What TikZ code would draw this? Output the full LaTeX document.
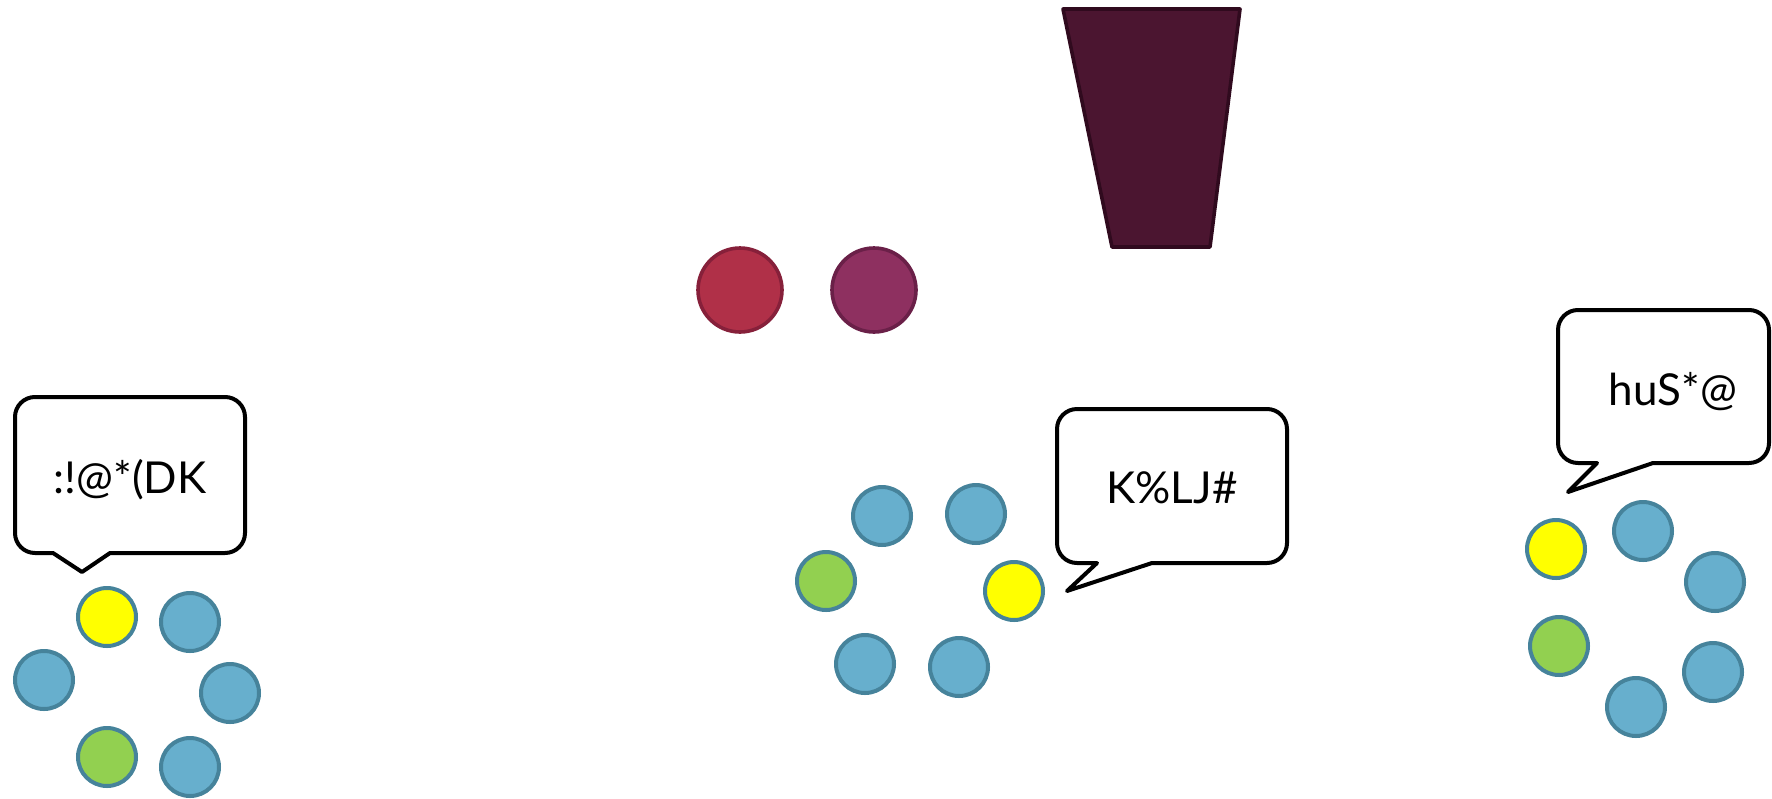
\documentclass[tikz,border=0pt]{standalone}
\usepackage{fontspec}
\setmainfont{Lato}
\definecolor{blueFill}{HTML}{67AFCD}
\definecolor{blueDraw}{HTML}{46839B}
\definecolor{yel}{HTML}{FFFF00}
\definecolor{grn}{HTML}{92D050}
\definecolor{redFill}{HTML}{B03048}
\definecolor{redDraw}{HTML}{86203A}
\definecolor{purFill}{HTML}{8E3060}
\definecolor{purDraw}{HTML}{6A2048}
\definecolor{trapFill}{HTML}{4B1530}
\definecolor{trapDraw}{HTML}{300A1E}
\tikzset{
  ball/.style={circle, inner sep=0pt, minimum size=29pt, line width=2pt, draw=blueDraw},
  bball/.style={ball, fill=blueFill},
  yball/.style={ball, fill=yel},
  gball/.style={ball, fill=grn},
  bigball/.style={circle, inner sep=0pt, minimum size=42pt, line width=1.8pt},
  bubble/.style={draw=black, fill=white, line width=2pt, line join=round},
  saying/.style={inner sep=0pt, anchor=base, font=\fontsize{22}{26}\selectfont},
}
\begin{document}
\begin{tikzpicture}[x=0.5pt, y=-0.5pt]
\useasboundingbox (0,0) rectangle (1772,798);
% top shapes
\node[bigball, fill=redFill, draw=redDraw] (red) at (740,290) {};
\node[bigball, fill=purFill, draw=purDraw] (purple) at (874,290) {};
\draw[fill=trapFill, draw=trapDraw, line width=1.8pt, line join=round] (1063,9) -- (1240,9) -- (1210,247) -- (1112,247) -- cycle;
% left group
\draw[bubble, rounded corners=10pt] (110,553) -- (245,553) -- (245,397) -- (15,397) -- (15,553) [sharp corners] -- (53,553) -- (82,572) -- cycle;
\node[saying] (t1) at (130,493) {:!@*(DK};
\node[yball] (l1) at (107,617) {};
\node[bball] (l2) at (190,622) {};
\node[bball] (l3) at (44,680) {};
\node[bball] (l4) at (230,693) {};
\node[gball] (l5) at (107,757) {};
\node[bball] (l6) at (190,767) {};
% middle group
\draw[bubble, rounded corners=10pt] (1152,563) -- (1287,563) -- (1287,409) -- (1057,409) -- (1057,563) [sharp corners] -- (1097,563) -- (1067,591) -- cycle;
\node[saying] (t2) at (1172,503) {K\%LJ\#};
\node[bball] (m1) at (882,516) {};
\node[bball] (m2) at (976,514) {};
\node[gball] (m3) at (826,581) {};
\node[yball] (m4) at (1014,591) {};
\node[bball] (m5) at (865,664) {};
\node[bball] (m6) at (959,667) {};
% right group
\draw[bubble, rounded corners=10pt] (1653,463) -- (1769,463) -- (1769,310) -- (1558,310) -- (1558,463) [sharp corners] -- (1597,463) -- (1568,492) -- cycle;
\node[saying] (t3) at (1673,405) {huS*@};
\node[yball] (r1) at (1556,549) {};
\node[bball] (r2) at (1643,531) {};
\node[bball] (r3) at (1715,582) {};
\node[gball] (r4) at (1559,646) {};
\node[bball] (r5) at (1713,672) {};
\node[bball] (r6) at (1636,707) {};
\end{tikzpicture}
\end{document}
